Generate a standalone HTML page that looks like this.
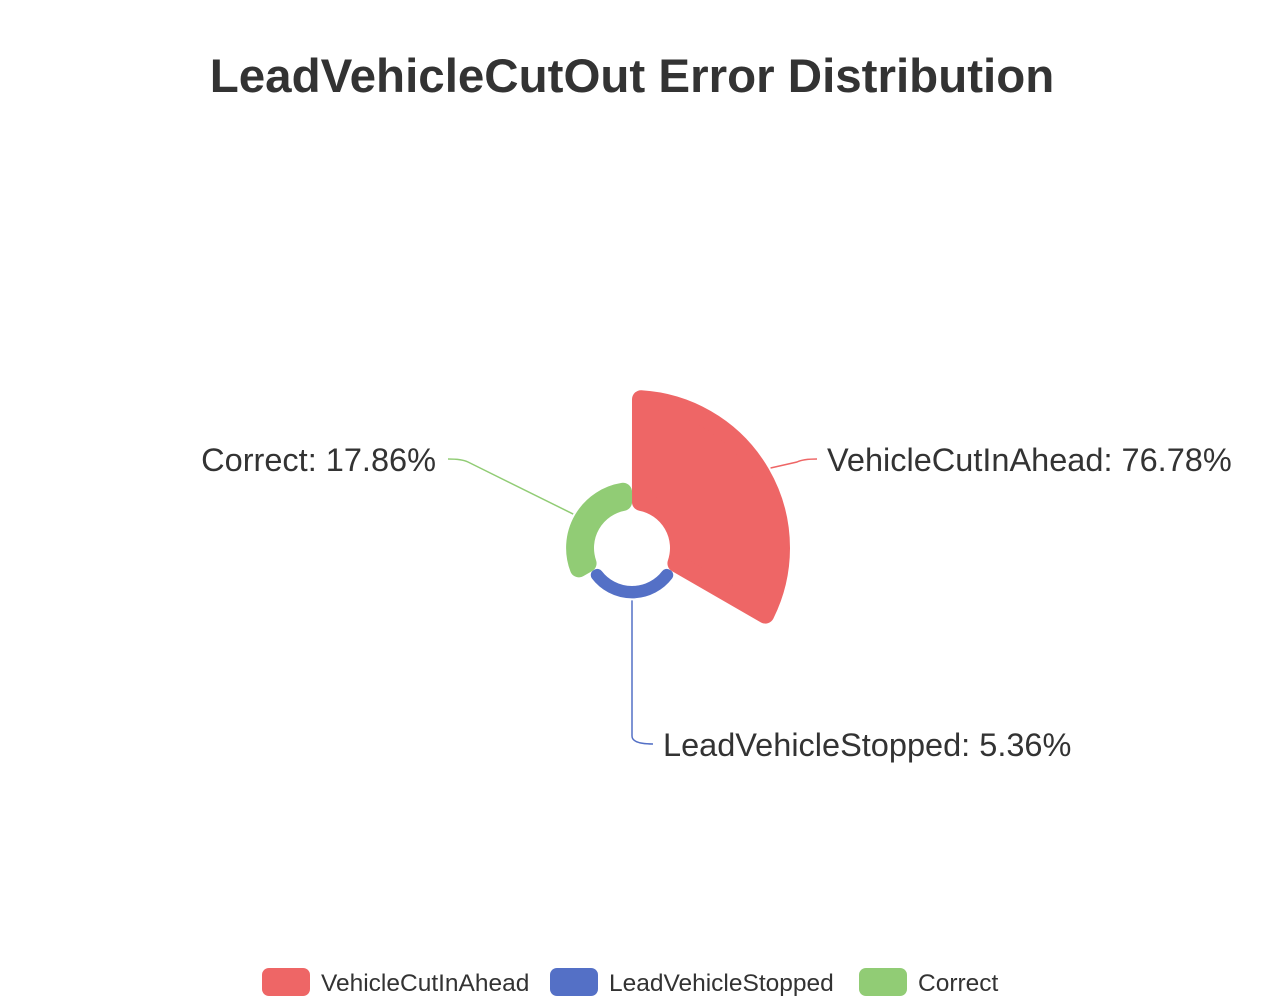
<!DOCTYPE html>
<html><head><meta charset="utf-8"><style>
html,body{margin:0;padding:0;background:#fff;}
svg{display:block;font-family:"Liberation Sans",Arial,sans-serif;}
</style></head><body>
<svg id="chart" width="1264" height="1006">
<text x="632" y="92" text-anchor="middle" font-size="47.5" font-weight="bold" fill="#333">LeadVehicleCutOut Error Distribution</text>
<g id="slices"></g><g id="labels"></g><g id="legend"></g>
</svg>
<script>
const categories = ["VehicleCutInAhead","LeadVehicleStopped","Correct"];
const values = [43, 3, 10];
const percentLabels = ["76.78%","5.36%","17.86%"];
const colors = ["#ee6666","#5470c6","#91cc75"];
const NS="http://www.w3.org/2000/svg";
const cx=632, cy=548, r0=38, R=158;
const maxV=Math.max(...values);
const rScale=v=>r0+(R-r0)*v/maxV;
function pt(r,a){const t=a*Math.PI/180;return [cx+r*Math.sin(t), cy-r*Math.cos(t)];}
function mk(tag,attrs,parent){const e=document.createElementNS(NS,tag);for(const k in attrs)e.setAttribute(k,attrs[k]);parent.appendChild(e);return e;}
const gS=document.getElementById('slices'), gL=document.getElementById('labels'), gG=document.getElementById('legend');
const step=360/values.length;
const labelPos=[[827,459,'start'],[663,744,'start'],[436,459,'end']];
values.forEach((v,i)=>{
  const a0=i*step,a1=(i+1)*step, Ro=rScale(v)+(i===1?4:0);
  const c=Math.min(9,(Ro-r0)/2-0.5);
  const ri=r0+c, ro=Ro-c;
  const da0=c/ri*180/Math.PI, da1=c/ro*180/Math.PI;
  const p1=pt(ro,a0+da1),p2=pt(ro,a1-da1),p3=pt(ri,a1-da0),p4=pt(ri,a0+da0);
  const d=`M${p1} A${ro},${ro} 0 0 1 ${p2} L${p3} A${ri},${ri} 0 0 0 ${p4} Z`;
  const s=mk('path',{d:d,fill:colors[i],stroke:colors[i],'stroke-width':2*c,'stroke-linejoin':'round'},gS);
  
  
  const mid=(a0+a1)/2, st=pt(Ro+2,mid);
  const [lx,ly,anc]=labelPos[i];
  const endX = anc==='start'? lx-10 : lx+12;
  const ex = anc==='start'? endX-20 : endX+20;
  let d2;
  if(i===1) d2=`M${st} L${st[0]},${ly-8} Q${st[0]},${ly} ${endX},${ly}`;
  else d2=`M${st} L${ex},${ly+3} Q${ex+(anc==='start'?6:-6)},${ly} ${endX},${ly}`;
  const ln=mk('path',{d:d2,fill:'none',stroke:colors[i],'stroke-width':1.5},gL);
  
  
  const t=mk('text',{x:lx,y:ly+12,'text-anchor':anc,'font-size':32.5,fill:'#333'},gL);
  t.textContent=categories[i]+': '+percentLabels[i];
  
  
});
const legX=[262,550,859];
categories.forEach((c,i)=>{
  const g=mk('g',{},gG);
  
  
  mk('rect',{x:legX[i],y:968,width:48,height:28,rx:7,fill:colors[i]},g);
  const t=mk('text',{x:legX[i]+59,y:991,'font-size':24.5,fill:'#333'},g);
  t.textContent=c;
});
</script>
</body></html>
